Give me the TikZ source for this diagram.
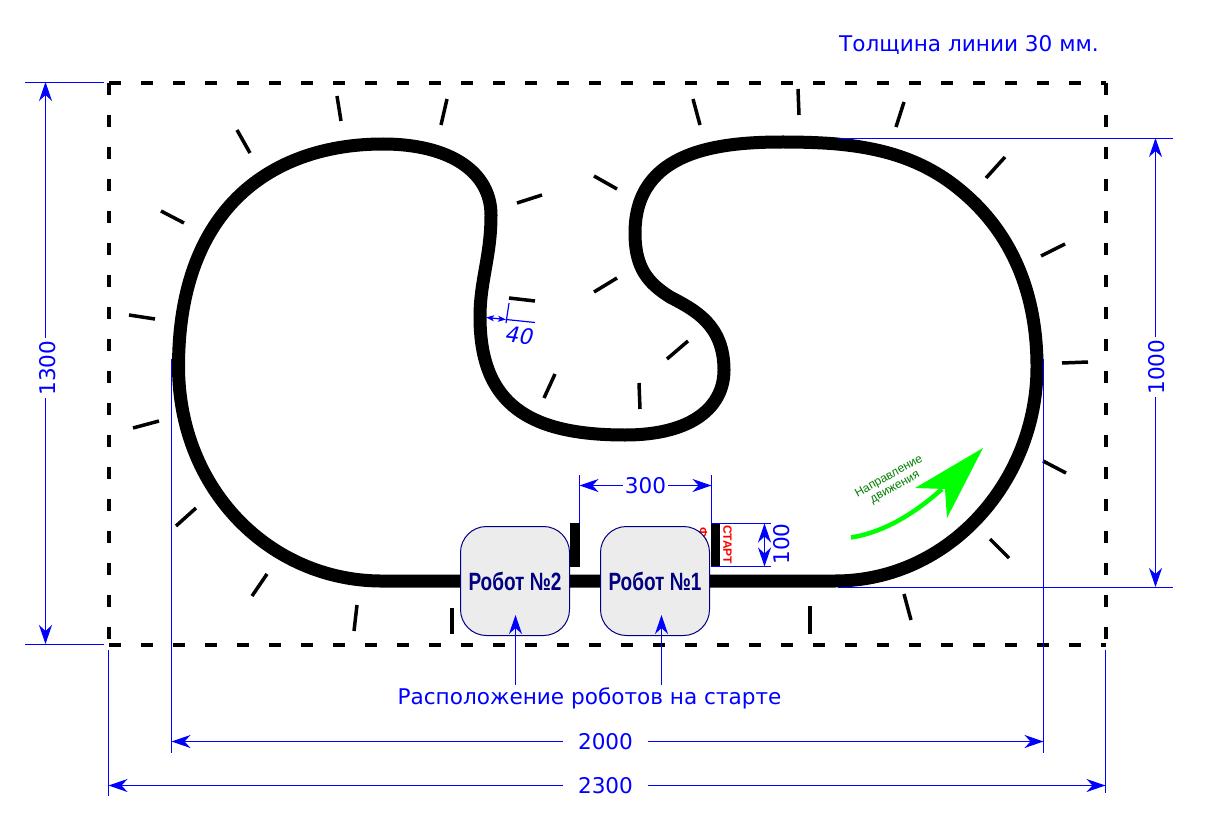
\documentclass[tikz,border=0pt]{standalone}
\usepackage{fontspec}
\usepackage{graphicx}
\setmainfont{DejaVu Sans}
\newfontfamily\libsans{Liberation Sans}
\usetikzlibrary{arrows.meta}
\definecolor{dimblue}{RGB}{0,0,255}
\definecolor{robotnavy}{RGB}{0,0,128}
\definecolor{robotfill}{RGB}{236,236,236}
\definecolor{dirgreen}{RGB}{0,255,0}
\definecolor{dirtext}{RGB}{0,128,0}
\tikzset{
  dimtip/.tip={Stealth[length=19pt,width=13pt,inset=6pt]},
  smalltip/.tip={Stealth[length=8pt,width=6pt,inset=2pt]},
  trackline/.style={line width=13pt,black,line join=round},
  ticktrack/.style={line width=3.5pt,black},
  fieldline/.style={line width=4pt,black,dash pattern=on 12pt off 20pt},
  extline/.style={line width=1.2pt,dimblue},
  dimline/.style={line width=1.2pt,dimblue,-{dimtip}},
  dimtext/.style={text=dimblue,font=\fontsize{21.6pt}{24pt}\selectfont,inner sep=0pt},
  gaptext/.style={dimtext,fill=white,inner xsep=15pt,inner ysep=3pt},
  robotbox/.style={draw=robotnavy,line width=1pt,fill=robotfill,rounded corners=26pt,minimum width=109pt,minimum height=109pt,inner sep=0pt,text=robotnavy},
  marker/.style={fill=black,draw=none},
}
\newcommand{\robotlabel}[1]{\scalebox{0.76}[1]{\libsans\bfseries\fontsize{25pt}{28pt}\selectfont #1}}
\begin{document}
\begin{tikzpicture}[x=1pt,y=-1pt]
\useasboundingbox (0,0) rectangle (1206,818);
\fill[white] (0,0) rectangle (1206,818);

% field border
\draw[fieldline] (109,83) -- (1106,83);
\draw[fieldline] (1106,83) -- (1106,645);
\draw[fieldline] (109,645) -- (1106,645);
\draw[fieldline] (109,83) -- (109,645);

% outside and inside ticks
\foreach \xa/\ya/\xb/\yb in {
 337/96/341/121, 447/99/441/125, 237/130/250/153, 161/211/184/223,
 129/315/155/319, 133/428/159/421, 176/526/196/508, 252/596/267/574,
 354/631/357/605, 452/634/452/608, 517/203/542/195, 594/176/617/189,
 693/99/700/125, 798/89/799/115, 904/102/896/127, 1005/157/986/178,
 1065/244/1041/256, 1088/362/1062/363, 1066/473/1043/461, 1009/558/990/539,
 904/594/911/620, 810/606/810/634, 594/292/617/278, 509/298/535/301,
 667/359/688/341, 555/374/544/398, 639/383/640/409}
 \draw[ticktrack] (\xa,\ya) -- (\xb,\yb);

% track
\draw[trackline] (380,581) -- (835,581)
  .. controls (950,581) and (1037,480) .. (1037,367)
  .. controls (1037,298) and (1015,228) .. (947,180)
  .. controls (915,158) and (880,148) .. (837,144)
  .. controls (820,142.5) and (800,142) .. (783,142)
  .. controls (720,142) and (635,150) .. (635,233)
  .. controls (635,268) and (648,283) .. (670,297)
  .. controls (695,310) and (724,325) .. (724,370)
  .. controls (724,407) and (692,435) .. (625,435)
  .. controls (530,435) and (480,405) .. (480,317)
  .. controls (480,280) and (491,257) .. (491,215)
  .. controls (491,172) and (450,144) .. (383,144)
  .. controls (275,144) and (178.5,205) .. (178.5,367)
  .. controls (179,490) and (270,580) .. (380,581) -- cycle;

% start markers
\fill[marker] (569.5,523) rectangle (580,567);
\fill[marker] (711,523) rectangle (720,567);

% start / finish labels
\node[rotate=-90,text=red,inner sep=0pt,font=\libsans\bfseries\fontsize{12pt}{13pt}\selectfont] (finishlabel) at (703,552) {ФИНИШ};
\node[rotate=-90,text=red,inner sep=0pt,font=\libsans\bfseries\fontsize{12pt}{13pt}\selectfont] (startlabel) at (727.5,544.5) {СТАРТ};

% robots
\node[robotbox] (robot2) at (515,581) {\robotlabel{Робот №2}};
\node[robotbox] (robot1) at (655,581) {\robotlabel{Робот №1}};

% robots caption
\node[dimtext,anchor=center] (caption) at (589.5,698) {Расположение роботов на старте};
\coordinate (tip2) at (515.5,615);
\coordinate (tip1) at (661.5,615);
\coordinate (from2) at (515.5,685);
\coordinate (from1) at (661.5,685);
\draw[dimline] (from2) -- (tip2);
\draw[dimline] (from1) -- (tip1);

% title
\node[dimtext] (title) at (969,45) {Толщина линии 30 мм.};

% dim 1300
\coordinate (a1) at (45.5,82); \coordinate (a2) at (45.5,644);
\draw[extline] (25,82.5) -- (104,82.5);
\draw[extline] (25,644.5) -- (104,644.5);
\node[dimtext,rotate=90] (d1300) at (48,368) {1300};
\coordinate (a0) at (45.5,338); \coordinate (a3) at (45.5,398);
\draw[dimline] (a0) -- (a1);
\draw[dimline] (a3) -- (a2);

% dim 1000
\coordinate (b1) at (1155.5,138); \coordinate (b2) at (1155.5,587);
\draw[extline] (838,138.5) -- (1173,138.5);
\draw[extline] (838,587.5) -- (1173,587.5);
\node[dimtext,rotate=90] (d1000) at (1157,367) {1000};
\coordinate (b3) at (1155.5,337); \coordinate (b4) at (1155.5,397);
\draw[dimline] (b3) -- (b1);
\draw[dimline] (b4) -- (b2);

% dim 2000
\coordinate (c1) at (171.5,741.5); \coordinate (c2) at (1043.5,741.5);
\draw[extline] (171.5,359) -- (171.5,753);
\draw[extline] (1043.5,359) -- (1043.5,753);
\node[gaptext] (d2000) at (605.5,741.5) {2000};
\draw[dimline] (d2000) -- (c1);
\draw[dimline] (d2000) -- (c2);

% dim 2300
\coordinate (e1) at (108.5,785.5); \coordinate (e2) at (1105.5,785.5);
\draw[extline] (108.5,650) -- (108.5,796);
\draw[extline] (1105.5,650) -- (1105.5,793);
\node[gaptext] (d2300) at (605.5,785.5) {2300};
\draw[dimline] (d2300) -- (e1);
\draw[dimline] (d2300) -- (e2);

% dim 300
\coordinate (f1) at (579.5,485.5); \coordinate (f2) at (711.5,485.5);
\draw[extline] (579.5,475) -- (579.5,523);
\draw[extline] (711.5,475) -- (711.5,523);
\node[gaptext,inner xsep=2pt] (d300) at (645.5,485.5) {300};
\draw[dimline] (d300) -- (f1);
\draw[dimline] (d300) -- (f2);

% dim 100
\coordinate (g1) at (764.5,523.5); \coordinate (g2) at (764.5,566.5);
\draw[extline] (711,523.5) -- (771,523.5);
\draw[extline] (711,566.5) -- (771,566.5);
\coordinate (g0) at (764.5,545);
\draw[dimline] (g0) -- (g1);
\draw[dimline] (g0) -- (g2);
\node[dimtext,rotate=90] (d100) at (782,544) {100};

% dim 40
\coordinate (h1) at (486,317.5); \coordinate (h2) at (506,319.5);
\draw[line width=1.2pt,dimblue,{smalltip}-{smalltip}] (h1) -- (h2);
\draw[extline] (509,303) -- (506,323);
\draw[extline] (506,319.5) -- (535,322.5);
\node[dimtext,rotate=-6,xslant=0.2] (d40) at (520,335.5) {40};

% direction arrow
\fill[dirgreen] (983,448) -- (915,488) -- (945,489) -- (947,518) -- cycle;
\coordinate (shaftstart) at (851,537.5);
\coordinate (shaftend) at (942,489);
\draw[line width=4.5pt,dirgreen] (shaftstart) .. controls (885,532) and (915,513) .. (shaftend);
\node[rotate=29,text=dirtext,align=center,inner sep=0pt,font=\libsans\fontsize{12pt}{12.5pt}\selectfont] (dirlabel) at (892,482) {Направление\\движения};
\end{tikzpicture}
\end{document}
